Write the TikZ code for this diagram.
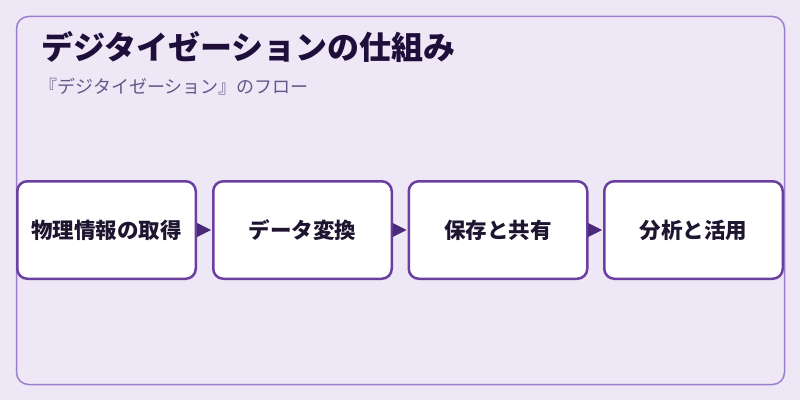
\documentclass[tikz,border=0pt]{standalone}
\usepackage{fontspec}
\setmainfont{Noto Sans CJK JP}
\usetikzlibrary{arrows.meta}
\definecolor{bgc}{HTML}{EDE7F6}
\definecolor{framec}{HTML}{9B7FCF}
\definecolor{boxc}{HTML}{6B3FA0}
\definecolor{arrc}{HTML}{4B2A7B}
\definecolor{titlec}{HTML}{1E0E3A}
\definecolor{subc}{HTML}{665788}
\definecolor{textc}{HTML}{1E1530}
\tikzset{
  stepbox/.style={draw=boxc, line width=2.5pt, fill=white, rounded corners=10pt,
    minimum width=178.5pt, minimum height=97.5pt, inner sep=0pt,
    font=\bfseries\fontsize{21.5}{25}\selectfont, text=textc},
  flow/.style={draw=arrc, line width=1pt, -{Triangle[length=14pt,width=14pt]}, fill=arrc, shorten >=1pt}
}
\begin{document}
\begin{tikzpicture}[x=1pt,y=1pt]
\useasboundingbox (0,0) rectangle (800,400);
\fill[bgc] (0,0) rectangle (800,400);
\draw[framec, line width=1.5pt, rounded corners=12pt] (16.5,15.5) rectangle (784.5,383.5);
\node[anchor=west, inner sep=0pt, font=\bfseries\fontsize{32}{37}\selectfont, text=titlec] (title) at (41,353) {デジタイゼーションの仕組み};
\node[anchor=west, inner sep=0pt, font=\fontsize{18}{21}\selectfont, text=subc] (sub) at (39.5,313) {『デジタイゼーション』のフロー};
\node[stepbox] (b1) at (106.5,170) {物理情報の取得};
\node[stepbox] (b2) at (302.5,170) {データ変換};
\node[stepbox] (b3) at (498,170) {保存と共有};
\node[stepbox] (b4) at (693.5,170) {分析と活用};
\draw[flow] (b1.east) -- (b2.west);
\draw[flow] (b2.east) -- (b3.west);
\draw[flow] (b3.east) -- (b4.west);
\end{tikzpicture}
\end{document}
